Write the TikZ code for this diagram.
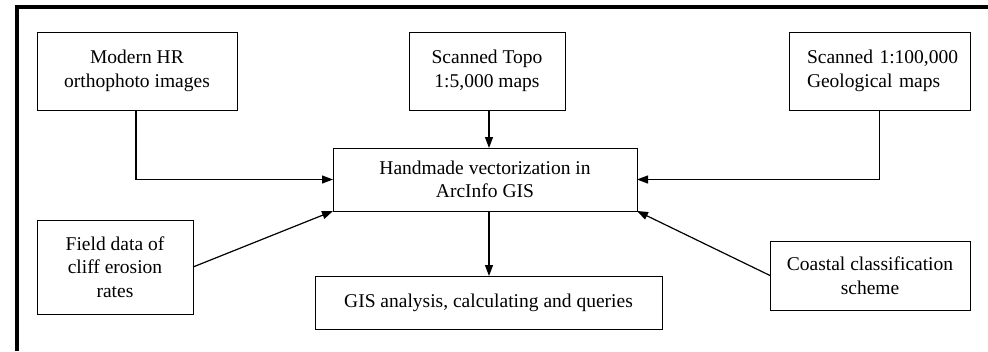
\documentclass[tikz,border=0pt]{standalone}
\usepackage{fontspec}
\setmainfont{Liberation Serif}
\usetikzlibrary{arrows.meta,positioning,calc}

\tikzset{
  box/.style={draw=black, line width=1pt, align=center, inner sep=0pt, outer sep=0pt,
    font=\fontsize{19.5}{23.5}\selectfont},
  flow/.style={line width=1.2pt, -{Triangle[length=11pt,width=8pt]}}
}

\begin{document}
\begin{tikzpicture}[x=1pt, y=1pt]

  \useasboundingbox (0,0) rectangle (988,-351);

  % frame (only top and left are shown)
  \draw[line width=3.5pt] (17,-351) -- (17,-7) -- (988,-7);

  % sources
  \node[box, minimum width=200pt, minimum height=78pt] (ortho) at (137,-71) {Modern HR\\orthophoto images};
  \node[box, minimum width=156pt, minimum height=78pt] (topo) at (487,-71) {Scanned Topo\\1:5,000 maps};
  \node[box, minimum width=181pt, minimum height=78pt, align=left, text width=145pt, inner xsep=18pt] (geol) at (879.5,-71) {\hbox{Scanned 1:100,000}\\Geological maps};

  % centre
  \node[box, minimum width=304pt, minimum height=63pt] (vect) at (485,-179.5) {Handmade vectorization in\\ArcInfo GIS};

  % side inputs
  \node[box, minimum width=156pt, minimum height=94pt] (field) at (115,-267) {Field data of\\cliff erosion\\rates};
  \node[box, minimum width=200pt, minimum height=69pt] (coast) at (870,-275.5) {Coastal classification\\scheme};

  % result
  \node[box, minimum width=347pt, minimum height=53pt] (gis) at (488.5,-302.5) {GIS analysis, calculating and queries};

  \coordinate (mid) at (489,0);

  \draw[flow] ($(ortho.south)+(-1,0)$) |- (vect.west);
  \draw[flow] (topo.south -| mid) -- (vect.north -| mid);
  \draw[flow] (geol.south) |- (vect.east);
  \draw[flow] (field.east) -- (vect.south west);
  \draw[flow] (coast.west) -- (vect.south east);
  \draw[flow] (vect.south -| mid) -- (gis.north -| mid);

\end{tikzpicture}
\end{document}
